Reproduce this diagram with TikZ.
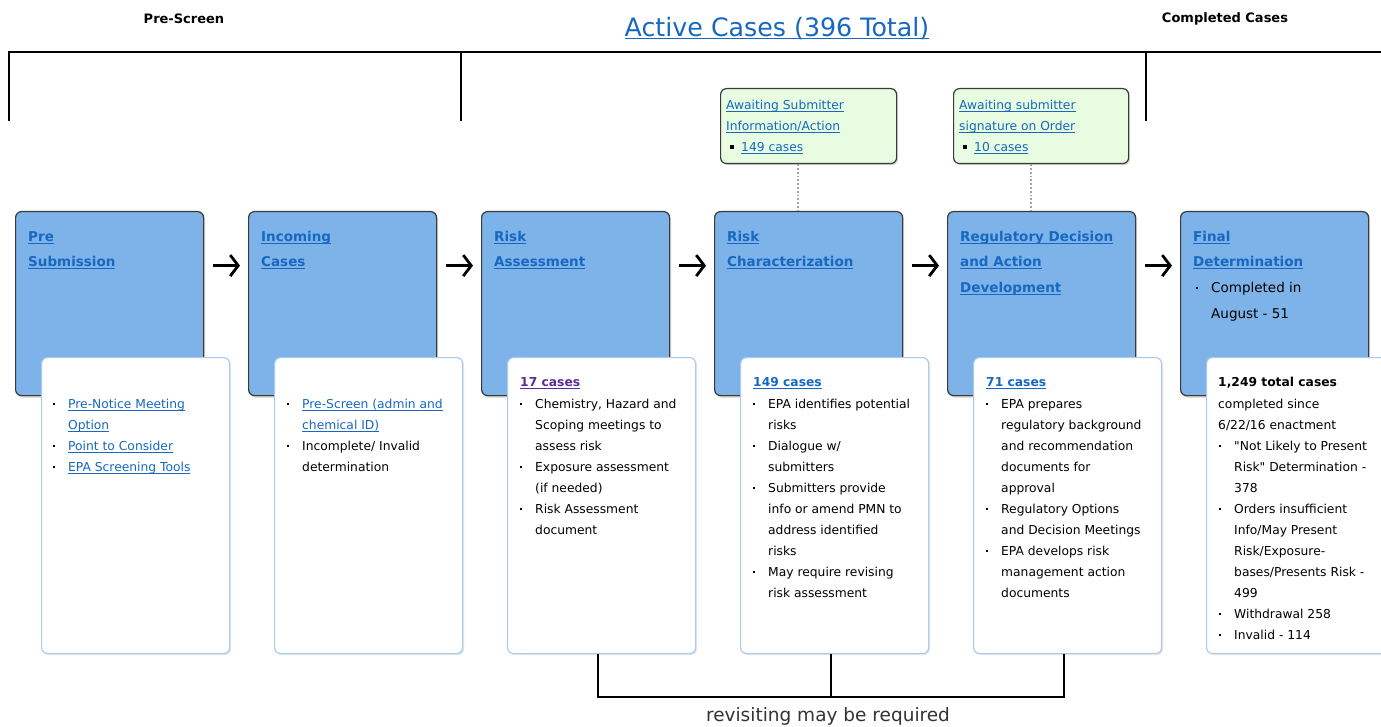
\documentclass[tikz,border=0pt]{standalone}
\usepackage{fontspec}
\setmainfont{DejaVu Sans}
\newfontfamily\qfam{DejaVu Sans}
\usetikzlibrary{arrows.meta,shadows,calc}
\definecolor{lnkc}{HTML}{1668C1}
\definecolor{visc}{HTML}{5B2D8E}
\definecolor{boxblue}{HTML}{7DB3E9}
\definecolor{boxedge}{HTML}{3A3A3A}
\definecolor{wedge}{HTML}{A9CCEF}
\definecolor{gfill}{HTML}{E7FCE0}
\definecolor{dotc}{HTML}{A5A5A5}
\newcommand\myul[1]{\setbox0\hbox{#1}\rlap{\rule[-2.2pt]{\wd0}{0.8pt}}\box0}
\newcommand\lnk[1]{\textcolor{lnkc}{\myul{#1}}}
\newcommand\hdl[2]{\textcolor{#1}{\bfseries\myul{#2}}}
\newcommand\tp{\rule{0pt}{11pt}}
\newcommand\bul{\makebox[16pt][l]{\hspace{1pt}\rule[3pt]{2.2pt}{2.2pt}}}
\newcommand\ind{\hspace*{16pt}}
\newcommand\gbul{\hspace*{4pt}\rule[2pt]{4pt}{4pt}\hspace{7pt}}
\newcommand\dq{{\qfam"}}
\tikzset{
  bbox/.style={draw=boxedge, line width=1.2pt, fill=boxblue, rounded corners=6pt,
    anchor=north west, minimum width=188pt, minimum height=184pt, inner sep=0pt,
    drop shadow={shadow xshift=1.5pt, shadow yshift=-2pt, opacity=0.4}},
  wbox/.style={draw=wedge, line width=1.2pt, fill=white, rounded corners=6pt,
    anchor=north west, minimum width=188pt, minimum height=296pt, inner sep=0pt,
    drop shadow={shadow xshift=1.5pt, shadow yshift=-1.5pt, opacity=0.2}},
  gbox/.style={draw=boxedge, line width=1.2pt, fill=gfill, rounded corners=6pt,
    anchor=north west, minimum height=75pt, inner sep=0pt,
    drop shadow={shadow xshift=1.5pt, shadow yshift=-1.5pt, opacity=0.35}},
  txt/.style={anchor=north west, inner sep=0pt, align=left, font=\fontsize{12.3}{21}\selectfont},
  ttl/.style={anchor=north west, inner sep=0pt, align=left, text=lnkc,
    font=\bfseries\fontsize{13.5}{25.5}\selectfont},
  flow/.style={line width=2.8pt, -{Straight Barb[length=8pt,width=21pt]}, shorten <=9pt, shorten >=8pt},
  brk/.style={line width=2pt, black},
  dotl/.style={dotted, line width=1.8pt, dotc}
}
\begin{document}
\begin{tikzpicture}[x=1pt,y=-1pt]
\useasboundingbox (0,0) rectangle (1381,727);
% headings
\node[font=\bfseries\fontsize{13}{15}\selectfont] (ps) at (184,19) {Pre-Screen};
\node[font=\bfseries\fontsize{13}{15}\selectfont] (cc) at (1225,19) {Completed Cases};
\node[font=\fontsize{25.3}{29}\selectfont] (ac) at (777,29) {\lnk{Active Cases (396 Total)}};
% top bracket
\draw[brk] (9,121) -- (9,52) -- (1386,52);
\draw[brk] (461,52) -- (461,121);
\draw[brk] (1146,52) -- (1146,121);
% blue boxes
\node[bbox] (b1) at (15,211) {};
\node[bbox] (b2) at (248,211) {};
\node[bbox] (b3) at (481,211) {};
\node[bbox] (b4) at (714,211) {};
\node[bbox] (b5) at (947,211) {};
\node[bbox] (b6) at (1180,211) {};
% arrows
\draw[flow] ([yshift=38pt]b1.east) -- ([yshift=38pt]b2.west);
\draw[flow] ([yshift=38pt]b2.east) -- ([yshift=38pt]b3.west);
\draw[flow] ([yshift=38pt]b3.east) -- ([yshift=38pt]b4.west);
\draw[flow] ([yshift=38pt]b4.east) -- ([yshift=38pt]b5.west);
\draw[flow] ([yshift=38pt]b5.east) -- ([yshift=38pt]b6.west);
% titles
\node[ttl] (t1) at (28,230) {\tp\myul{Pre}\\\myul{Submission}};
\node[ttl] (t2) at (261,230) {\tp\myul{Incoming}\\\myul{Cases}};
\node[ttl] (t3) at (494,230) {\tp\myul{Risk}\\\myul{Assessment}};
\node[ttl] (t4) at (727,230) {\tp\myul{Risk}\\\myul{Characterization}};
\node[ttl] (t5) at (960,230) {\tp\myul{Regulatory Decision}\\\myul{and Action}\\\myul{Development}};
\node[ttl] (t6) at (1193,230) {\tp\myul{Final}\\\myul{Determination}};
\node[txt, font=\fontsize{13.5}{26}\selectfont] (f6) at (1195,281) {\tp\bul Completed in\\\ind August - 51};
% green boxes
\node[gbox, minimum width=176pt] (g1) at (720,88) {};
\node[gbox, minimum width=175pt] (g2) at (953,88) {};
\node[txt] (gt1) at (726,98) {\tp\lnk{Awaiting Submitter}\\\lnk{Information/Action}\\\gbul\lnk{149 cases}};
\node[txt] (gt2) at (959,98) {\tp\lnk{Awaiting submitter}\\\lnk{signature on Order}\\\gbul\lnk{10 cases}};
\draw[dotl] ([xshift=-11pt]g1.south) -- ([xshift=-11pt]g1.south |- b4.north);
\draw[dotl] ([xshift=-10.5pt]g2.south) -- ([xshift=-10.5pt]g2.south |- b5.north);
% white boxes
\node[wbox] (w1) at (41,357) {};
\node[wbox] (w2) at (274,357) {};
\node[wbox] (w3) at (507,357) {};
\node[wbox] (w4) at (740,357) {};
\node[wbox] (w5) at (973,357) {};
\node[wbox] (w6) at (1206,357) {};
% white box texts
\node[txt] (l1) at (52,397) {\tp\bul\lnk{Pre-Notice Meeting}\\
\ind\lnk{Option}\\
\bul\lnk{Point to Consider}\\
\bul\lnk{EPA Screening Tools}};
\node[txt] (l2) at (286,397) {\tp\bul\lnk{Pre-Screen (admin and}\\
\ind\lnk{chemical ID)}\\
\bul Incomplete/ Invalid\\
\ind determination};
\node[txt] (l3) at (519,375) {\tp\hspace*{1pt}\hdl{visc}{17 cases}\\[1pt]
\bul Chemistry, Hazard and\\
\ind Scoping meetings to\\
\ind assess risk\\
\bul Exposure assessment\\
\ind (if needed)\\
\bul Risk Assessment\\
\ind document};
\node[txt] (l4) at (752,375) {\tp\hspace*{1pt}\hdl{lnkc}{149 cases}\\[1pt]
\bul EPA identifies potential\\
\ind risks\\
\bul Dialogue w/\\
\ind submitters\\
\bul Submitters provide\\
\ind info or amend PMN to\\
\ind address identified\\
\ind risks\\
\bul May require revising\\
\ind risk assessment};
\node[txt] (l5) at (985,375) {\tp\hspace*{1pt}\hdl{lnkc}{71 cases}\\[1pt]
\bul EPA prepares\\
\ind regulatory background\\
\ind and recommendation\\
\ind documents for\\
\ind approval\\
\bul Regulatory Options\\
\ind and Decision Meetings\\
\bul EPA develops risk\\
\ind management action\\
\ind documents};
\node[txt] (l6) at (1218,375) {\tp{\bfseries 1,249 total cases}\\[1pt]
completed since\\
6/22/16 enactment\\
\bul \dq Not Likely to Present\\
\ind Risk\dq{} Determination -\\
\ind 378\\
\bul Orders insufficient\\
\ind Info/May Present\\
\ind Risk/Exposure-\\
\ind bases/Presents Risk -\\
\ind 499\\
\bul Withdrawal 258\\
\bul Invalid - 114};
% bottom bracket
\coordinate (bm) at ($([xshift=-4pt]w4.south)+(0,43)$);
\draw[brk] ([xshift=-4pt]w3.south) |- (bm) -| ([xshift=-4pt]w5.south);
\draw[brk] ([xshift=-4pt]w4.south) -- (bm);
\node[font=\fontsize{18.5}{21}\selectfont, text=black!80] (rv) at (828,716) {revisiting may be required};
\end{tikzpicture}
\end{document}
